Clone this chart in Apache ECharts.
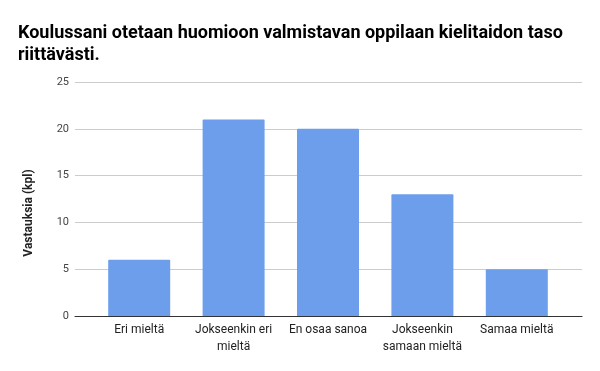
<!DOCTYPE html>
<html><head><meta charset="utf-8">
<script src="https://cdn.jsdelivr.net/npm/echarts@6/dist/echarts.min.js"></script>
<style>html,body{margin:0;padding:0;background:#fff}#c{width:600px;height:371px}</style>
</head><body><div id="c"></div>
<script>
const titleText = 'Koulussani otetaan huomioon valmistavan oppilaan kielitaidon taso\nriittävästi.';
const categories = ['Eri mieltä', 'Jokseenkin eri\nmieltä', 'En osaa sanoa', 'Jokseenkin\nsamaan mieltä', 'Samaa mieltä'];
const values = [6, 21, 20, 13, 5];
const yTicks = { min: 0, max: 25, interval: 5 };
const yName = 'Vastauksia (kpl)';

const chart = echarts.init(document.getElementById('c'), null, { renderer: 'canvas' });
chart.setOption({
  animation: false,
  backgroundColor: '#fff',
  textStyle: { fontFamily: 'Roboto' },
  title: {
    text: titleText, left: 13, top: 17,
    textStyle: { fontFamily: 'Roboto', fontWeight: 'bold', fontSize: 18, color: '#000', lineHeight: 22 }
  },
  grid: [
    { left: 75, right: 18, top: 82, bottom: 55 },
    { left: 92, right: 36, top: 82, bottom: 55 }
  ],
  xAxis: [
    { gridIndex: 0, type: 'value', min: 0, max: 1, show: true,
      axisLine: { show: true, onZero: false, lineStyle: { color: '#333', width: 1 } },
      axisTick: { show: false }, axisLabel: { show: false }, splitLine: { show: false } },
    { gridIndex: 1, type: 'category', data: categories,
      axisLine: { show: false }, axisTick: { show: false },
      axisLabel: { color: '#222', fontSize: 12, lineHeight: 17, margin: 5, interval: 0 } }
  ],
  yAxis: [
    { gridIndex: 0, type: 'value', min: yTicks.min, max: yTicks.max, interval: yTicks.interval,
      name: yName, nameLocation: 'middle', nameGap: 40,
      nameTextStyle: { fontWeight: 'bold', fontSize: 12, color: '#222', padding: [0, 0, 0, -28] },
      axisLine: { show: false }, axisTick: { show: false },
      axisLabel: { color: '#444', fontSize: 11, margin: 6 },
      splitLine: { lineStyle: { color: '#ccc', width: 1 } } },
    { gridIndex: 1, type: 'value', min: yTicks.min, max: yTicks.max, interval: yTicks.interval, show: false,
      splitLine: { show: false } }
  ],
  series: [{
    type: 'bar', xAxisIndex: 1, yAxisIndex: 1, data: values,
    barWidth: 62,
    itemStyle: { color: '#6d9eeb', borderRadius: [1, 1, 0, 0] }
  }]
});
</script></body></html>
